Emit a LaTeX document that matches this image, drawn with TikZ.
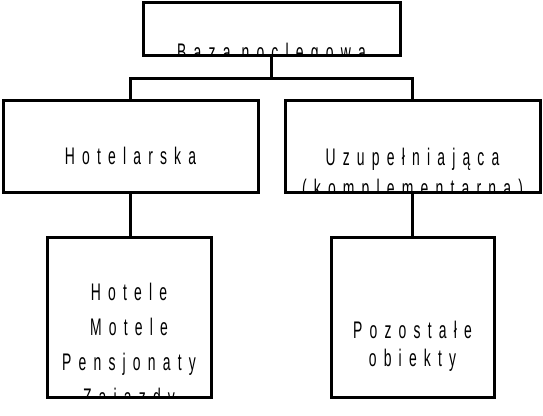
\documentclass[tikz,border=0pt]{standalone}
\usepackage{fontspec}
\usepackage{tikz}
\usetikzlibrary{calc,positioning}
\newfontfamily\boxfont[FakeStretch=0.58,LetterSpace=30]{Liberation Sans}
\newcommand\boxsize[1]{\boxfont\fontsize{24}{#1}\selectfont}
\tikzset{
  box/.style={draw=black,line width=3pt,outer sep=0pt,inner sep=0pt},
  boxtext/.style={font=\boxsize{28pt},align=center,anchor=base,inner sep=0pt},
  conn/.style={draw=black,line width=3pt}
}

\begin{document}
\begin{tikzpicture}[x=1pt,y=-1pt]
    \path[use as bounding box] (0,0) rectangle (543,415);
    % boxes, text clipped by the frame
    \node[box,minimum width=257,minimum height=53,
      path picture={\node[boxtext] (bazatxt) at ($(path picture bounding box.center)+(0,31.5)$)
        {Baza noclegowa};}] (baza) at (271.5,28.5) {};
    \node[box,minimum width=255,minimum height=92,
      path picture={\node[boxtext] (hoteltxt) at ($(path picture bounding box.center)+(0,18)$)
        {Hotelarska};}] (hotel) at (130.5,146) {};
    \node[box,minimum width=255,minimum height=92,
      path picture={\node[boxtext,font=\boxsize{31pt}] (uzuptxt)
        at ($(path picture bounding box.center)+(0,50)$)
        {Uzupełniająca\\(komplementarna)};}] (uzup) at (412.5,146) {};
    \node[box,minimum width=164,minimum height=160,
      path picture={\node[boxtext,font=\boxsize{35pt}] (obiekttxt)
        at ($(path picture bounding box.center)+(0,88)$)
        {Hotele\\Motele\\Pensjonaty\\Zajazdy};}] (obiekt) at (129,317) {};
    \node[box,minimum width=163,minimum height=160,
      path picture={\node[boxtext,font=\boxsize{28pt}] (pozosttxt)
        at ($(path picture bounding box.center)+(0,49)$)
        {Pozostałe\\obiekty};}] (pozost) at (412.5,317) {};
    % connectors
    \coordinate (bus) at (271.5,78);
    \draw[conn] (baza.south) -- (bus);
    \draw[conn] (hotel.north) |- (bus) -| (uzup.north);
    \draw[conn] (hotel.south) -- (hotel.south |- obiekt.north);
    \draw[conn] (uzup.south) -- (uzup.south |- pozost.north);
  \end{tikzpicture}
\end{document}
